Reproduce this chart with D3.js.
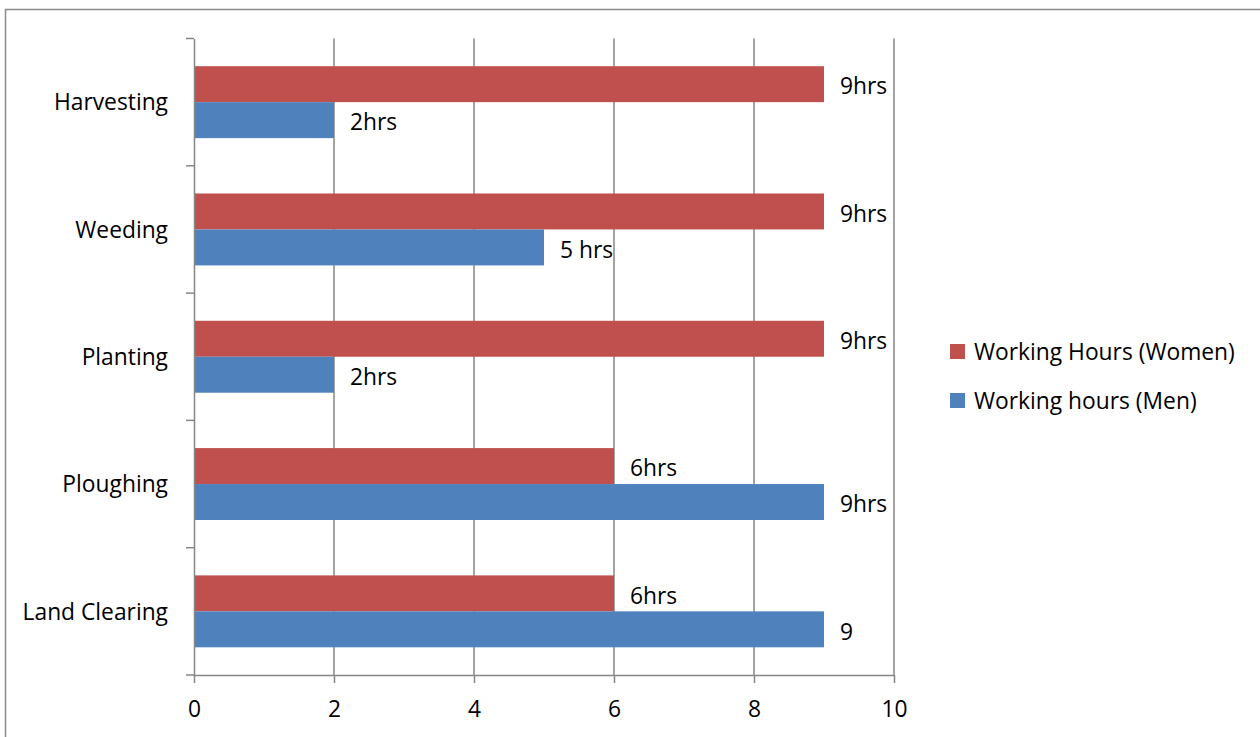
<!DOCTYPE html>
<html>
<head>
<meta charset="utf-8">
<script src="https://cdn.jsdelivr.net/npm/d3@7"></script>
<style>
  html, body { margin: 0; padding: 0; background: #fff; }
  svg { display: block; }
  text { font-family: "Open Sans", Lato, sans-serif; fill: #000; }
</style>
</head>
<body>
<svg id="chart" width="1260" height="737"></svg>
<script>
// Activities, listed top to bottom
const categories = ["Harvesting", "Weeding", "Planting", "Ploughing", "Land Clearing"];
const womenHours = [9, 9, 9, 6, 6];
const menHours = [2, 5, 2, 9, 9];
const womenLabels = ["9hrs", "9hrs", "9hrs", "6hrs", "6hrs"];
const menLabels = ["2hrs", "5 hrs", "2hrs", "9hrs", "9"];
const xTicks = [0, 2, 4, 6, 8, 10];
const seriesNames = ["Working Hours (Women)", "Working hours (Men)"];
const seriesColors = ["#C0504D", "#4F81BD"];

const FONT = 22.8;
const svg = d3.select("#chart");
const plotLeft = 194, plotRight = 894, plotTop = 38.5, plotBottom = 675;

// outer frame
svg.append("rect")
  .attr("x", 5.5).attr("y", 9.5)
  .attr("width", 1262).attr("height", 740)
  .attr("fill", "none").attr("stroke", "#8c8c8c").attr("stroke-width", 1.5);

const x = d3.scaleLinear().domain([0, 10]).range([plotLeft, plotRight]);
const y = d3.scaleBand().domain(categories).range([plotTop, plotBottom]).paddingInner(0).paddingOuter(0);
const inner = d3.scaleBand().domain(["w", "m"]).range([0, y.bandwidth()]).paddingInner(0).paddingOuter(0.77);

// vertical gridlines
svg.append("g").selectAll("line")
  .data(xTicks.filter(d => d > 0))
  .join("line")
  .attr("x1", d => x(d)).attr("x2", d => x(d))
  .attr("y1", plotTop).attr("y2", plotBottom)
  .attr("stroke", "#868686").attr("stroke-width", 1.5);

// bars
const groups = svg.append("g").selectAll("g")
  .data(categories)
  .join("g")
  .attr("transform", d => `translate(0,${y(d)})`);

groups.append("rect")
  .attr("x", x(0))
  .attr("y", inner("w"))
  .attr("width", (d, i) => x(womenHours[i]) - x(0))
  .attr("height", inner.bandwidth())
  .attr("fill", seriesColors[0]);

groups.append("rect")
  .attr("x", x(0))
  .attr("y", inner("m"))
  .attr("width", (d, i) => x(menHours[i]) - x(0))
  .attr("height", inner.bandwidth())
  .attr("fill", seriesColors[1]);

// value labels
groups.append("text")
  .attr("x", (d, i) => x(womenHours[i]) + 16)
  .attr("y", inner("w") + inner.bandwidth() / 2)
  .attr("dy", "0.45em")
  .attr("font-size", FONT)
  .text((d, i) => womenLabels[i]);

groups.append("text")
  .attr("x", (d, i) => x(menHours[i]) + 16)
  .attr("y", inner("m") + inner.bandwidth() / 2)
  .attr("dy", "0.45em")
  .attr("font-size", FONT)
  .text((d, i) => menLabels[i]);

// axes
const yAxis = d3.axisLeft(y).tickSize(0).tickPadding(26);
const yg = svg.append("g").attr("transform", `translate(${plotLeft},0)`).call(yAxis);
yg.select(".domain").attr("stroke", "#868686").attr("stroke-width", 1.5);
yg.selectAll("text").attr("font-size", FONT).attr("fill", "#000").attr("dy", "0.36em");

// category boundary tick marks
svg.append("g").selectAll("line")
  .data(categories.map(c => y(c)).concat([plotBottom]))
  .join("line")
  .attr("x1", plotLeft - 8).attr("x2", plotLeft)
  .attr("y1", d => d).attr("y2", d => d)
  .attr("stroke", "#868686").attr("stroke-width", 1.5);

const xAxis = d3.axisBottom(x).tickValues(xTicks).tickSize(8).tickPadding(18).tickSizeOuter(0);
const xg = svg.append("g").attr("transform", `translate(0,${plotBottom})`).call(xAxis);
xg.select(".domain").attr("stroke", "#868686").attr("stroke-width", 1.5);
xg.selectAll(".tick line").attr("stroke", "#868686").attr("stroke-width", 1.5);
xg.selectAll("text").attr("font-size", FONT).attr("fill", "#000");
svg.selectAll(".tick text").style("font-family", "'Open Sans', Lato, sans-serif");

// legend
const legend = svg.append("g").attr("transform", "translate(950,351.5)");
const items = legend.selectAll("g")
  .data(seriesNames)
  .join("g")
  .attr("transform", (d, i) => `translate(0,${i * 49})`);
items.append("rect")
  .attr("x", 0).attr("y", -7.5)
  .attr("width", 15).attr("height", 15)
  .attr("fill", (d, i) => seriesColors[i]);
items.append("text")
  .attr("x", 24).attr("y", 0).attr("dy", "0.36em")
  .attr("font-size", FONT)
  .text(d => d);
</script>
</body>
</html>
